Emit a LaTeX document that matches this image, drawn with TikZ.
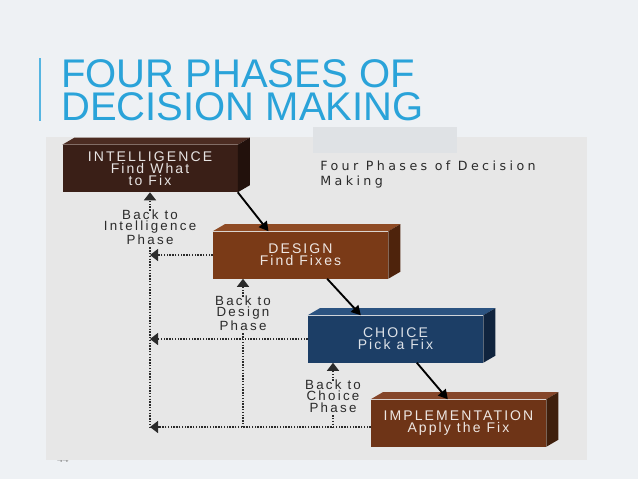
\documentclass[tikz,border=0pt]{standalone}
\usepackage{fontspec}
\setmainfont{Liberation Sans}
\newfontfamily\boxfont[LetterSpace=15]{Liberation Sans}
\newfontfamily\labelfont[LetterSpace=17]{Liberation Sans}
\newfontfamily\notefont[LetterSpace=27]{DejaVu Sans}
\usetikzlibrary{arrows.meta,positioning}

\definecolor{pagebg}{HTML}{EEF1F4}
\definecolor{panelbg}{HTML}{E7E7E7}
\definecolor{patchbg}{HTML}{DFE2E5}
\definecolor{titleblue}{HTML}{2AA3D9}
\definecolor{labelgray}{HTML}{2B2B2B}
\definecolor{intelfront}{HTML}{3A1F17}
\definecolor{inteltop}{HTML}{4C2C22}
\definecolor{intelside}{HTML}{22110C}
\definecolor{designfront}{HTML}{7A3A17}
\definecolor{designtop}{HTML}{8F4B25}
\definecolor{designside}{HTML}{4E230C}
\definecolor{choicefront}{HTML}{1C3E66}
\definecolor{choicetop}{HTML}{2B5381}
\definecolor{choiceside}{HTML}{10243E}
\definecolor{implfront}{HTML}{6E3417}
\definecolor{impltop}{HTML}{85462A}
\definecolor{implside}{HTML}{3F1F0C}

\begin{document}
\begin{tikzpicture}[x=0.75pt,y=-0.75pt,
  phase/.style={rectangle, minimum width=131.25pt, minimum height=35.25pt,
    inner sep=0pt, align=center, font=\boxfont\fontsize{10.5}{9}\selectfont},
  backlabel/.style={align=center, inner sep=0pt, text=labelgray,
    font=\labelfont\fontsize{10}{8.6}\selectfont},
  flow/.style={-{Triangle[length=7pt,width=7.5pt]}, line width=1.4pt, black},
  goback/.style={line width=1pt, labelgray, dash pattern=on 1pt off 1.1pt},
  goarrow/.style={goback, -{Triangle[length=6pt,width=9pt]}}]

% slide background
\fill[pagebg] (0,0) rectangle (638,479);
\useasboundingbox (0,0) rectangle (638,479);
\node[text=gray, font=\fontsize{8}{8}\selectfont] (pagenum) at (63,459) {44};
\fill[panelbg] (46,137) rectangle (587,460);
\fill[patchbg] (313,127) rectangle (457,153);

% slide title
\draw[titleblue!80, line width=1.1pt] (40,58) -- (40,121);
\node[anchor=base west, inner sep=0pt, align=left, text=titleblue,
  font=\fontsize{30}{24.75}\selectfont] (title) at (61,120)
  {FOUR PHASES OF\\DECISION MAKING};

\node[anchor=base west, inner sep=0pt, align=left, text=labelgray,
  font=\notefont\fontsize{9.5}{11.25}\selectfont] (caption) at (320,185)
  {Four Phases of Decision\\Making};

% the four phases
\node[phase, fill=intelfront, text=white!88!intelfront] (intel) at (150,168.5)
  {INTELLIGENCE\\Find What\\to Fix};
\node[phase, fill=designfront, text=white!88!designfront] (design) at (300.5,255)
  {DESIGN\\Find Fixes};
\node[phase, fill=choicefront, text=white!85!choicefront] (choice) at (395.5,339)
  {CHOICE\\Pick a Fix};
\node[phase, fill=implfront, text=white!88!implfront] (impl) at (458.5,423)
  {IMPLEMENTATION\\Apply the Fix};

% top and side faces
\foreach \b/\t/\s in {intel/inteltop/intelside, design/designtop/designside,
                      choice/choicetop/choiceside, impl/impltop/implside} {
  \fill[\t] (\b.north west) -- ++(12,-7) -- ([shift={(12,-7)}]\b.north east)
    -- (\b.north east) -- cycle;
  \fill[\s] (\b.north east) -- ++(12,-7) -- ([shift={(12,-7)}]\b.south east)
    -- (\b.south east) -- cycle;
}

% forward flow
\draw[flow] (intel.south east) -- ([xshift=-24pt]design.north);
\draw[flow] ([xshift=20pt]design.south) -- ([xshift=-26pt]choice.north);
\draw[flow] ([xshift=16pt]choice.south) -- ([xshift=-8pt]impl.north);

% going back
\node[backlabel] (backI) at (150,227) {Back to\\Intelligence\\Phase};
\node[backlabel] (backD) at (243,313) {Back to\\Design\\Phase};
\node[backlabel] (backC) at (333,396) {Back to\\Choice\\Phase};

\coordinate (endI) at (150,427);
\coordinate (endD) at (243,427);
\coordinate (endC) at (333,427);
\coordinate (joinD) at (150,255);
\coordinate (joinC) at (150,339);

\draw[goarrow] ([yshift=-1pt]backI.north) -- (intel.south);
\draw[goarrow] ([yshift=-1pt]backD.north) -- (design.south -| backD);
\draw[goarrow] ([yshift=-1pt]backC.north) -- (choice.south -| backC);

\draw[goback] ([yshift=-2pt]backI.south) -- (endI);
\draw[goback] ([yshift=-2pt]backD.south) -- (endD);
\draw[goback] ([yshift=-2pt]backC.south) -- (endC);

\draw[goarrow] (design.west) -- (joinD);
\draw[goarrow] (choice.west) -- (joinC);
\draw[goarrow] (impl.west |- endI) -- (endI);
\end{tikzpicture}
\end{document}
